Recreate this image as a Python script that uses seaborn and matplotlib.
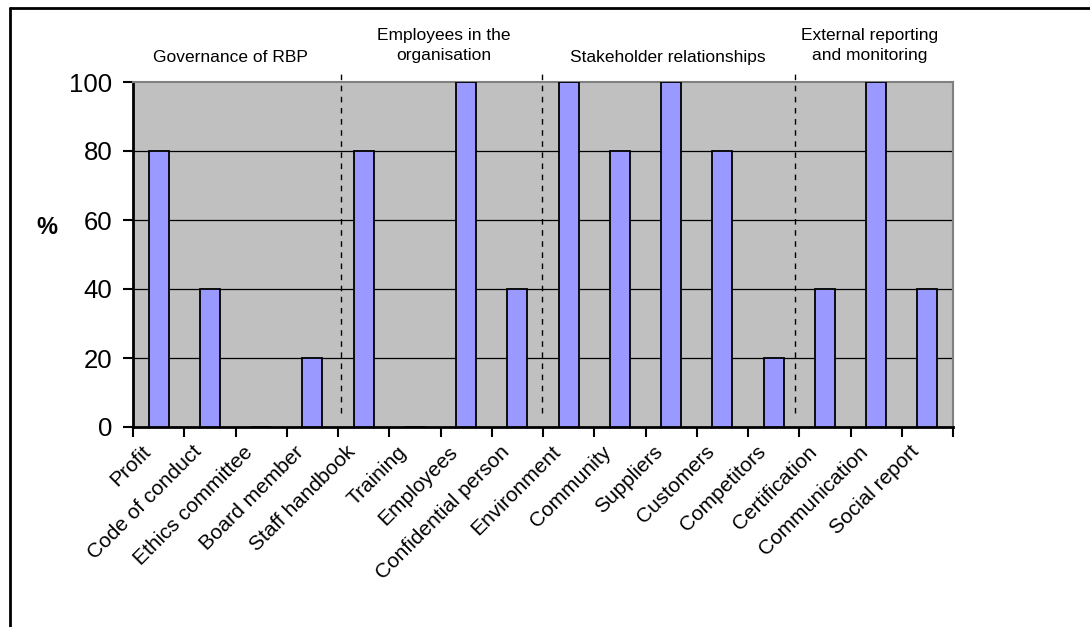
import numpy as np
import pandas as pd
import seaborn as sbn
import matplotlib.pyplot as plt
import matplotlib.transforms as mtransforms
from matplotlib.lines import Line2D

# data
items = ['Profit', 'Code of conduct', 'Ethics committee', 'Board member',
         'Staff handbook', 'Training', 'Employees', 'Confidential person',
         'Environment', 'Community', 'Suppliers', 'Customers', 'Competitors',
         'Certification', 'Communication', 'Social report']
percent = [80, 40, 0, 20, 80, 0, 100, 40, 100, 80, 100, 80, 20, 40, 100, 40]

groups = ['Governance of RBP', 'Employees in the\norganisation',
          'Stakeholder relationships', 'External reporting\nand monitoring']
group_centers = [1.41, 5.57, 9.94, 13.88]
group_dividers = [3.56, 7.48, 12.42]
y_ticks = [0, 20, 40, 60, 80, 100]

df = pd.DataFrame({'item': items, 'percent': percent})

sbn.set_style('white')
plt.rcParams['font.family'] = ['Liberation Sans', 'DejaVu Sans']
plt.rcParams['text.color'] = 'black'
plt.rcParams['xtick.color'] = 'black'
plt.rcParams['ytick.color'] = 'black'

fig = plt.figure(figsize=(10.9, 6.27), dpi=100)
ax = fig.add_axes([133/1090, 1 - 427/627, 820/1090, 345/627])
ax.set_facecolor('#C0C0C0')

sbn.barplot(data=df, x='item', y='percent', color='#9999FF', saturation=1,
            width=0.39, edgecolor='black', linewidth=1.3, ax=ax, zorder=3)

ax.set_xlim(-0.5, len(items) - 0.5)
ax.set_ylim(0, 100)
ax.set_yticks(y_ticks)
ax.set_yticklabels([str(v) for v in y_ticks], fontsize=18.5)
ax.tick_params(axis='y', length=7, width=1.5, pad=8, color='black',
               labelcolor='black', left=True)

for v in y_ticks[1:-1]:
    ax.axhline(v, color='black', linewidth=0.9, zorder=1)

# category labels centred in slot, ticks on slot boundaries
ax.set_xticks(np.arange(len(items)))
ax.set_xticklabels(items, rotation=45, ha='right', va='top',
                   rotation_mode='anchor', fontsize=15)
ax.tick_params(axis='x', which='major', length=0, pad=11, labelcolor='black')
shift = mtransforms.ScaledTranslation(-18/100, 0, fig.dpi_scale_trans)
for lab in ax.get_xticklabels():
    lab.set_transform(lab.get_transform() + shift)
ax.set_xticks(np.arange(len(items) + 1) - 0.5, minor=True)
ax.tick_params(axis='x', which='minor', length=7, width=1.5, color='black', bottom=True)

ax.set_xlabel('')
ax.set_ylabel('')

for side in ['left', 'bottom']:
    ax.spines[side].set_color('black')
    ax.spines[side].set_linewidth(2)
for side in ['top', 'right']:
    ax.spines[side].set_color('#808080')
    ax.spines[side].set_linewidth(1.5)

# group dividers and headers
for x in group_dividers:
    ax.plot([x, x], [4, 102.6], color='black', linestyle=(0, (4, 4)),
            linewidth=1, clip_on=False, zorder=4)

for x, name in zip(group_centers, groups):
    if '\n' in name:
        ax.text(x, 110.6, name, ha='center', va='center', fontsize=12.5,
                linespacing=1.35, color='black')
    else:
        ax.text(x, 107.2, name, ha='center', va='center', fontsize=12.5,
                color='black')

fig.text(47/1090, 1 - 227/627, '%', fontsize=17, fontweight='bold',
         ha='center', va='center', color='black')

# outer frame (cut at right and bottom)
fig.add_artist(Line2D([10/1090, 1], [1 - 8/627, 1 - 8/627], color='black',
                      linewidth=2, transform=fig.transFigure))
fig.add_artist(Line2D([10/1090, 10/1090], [0, 1 - 8/627], color='black',
                      linewidth=2, transform=fig.transFigure))

fig.savefig('out.png', dpi=100)
